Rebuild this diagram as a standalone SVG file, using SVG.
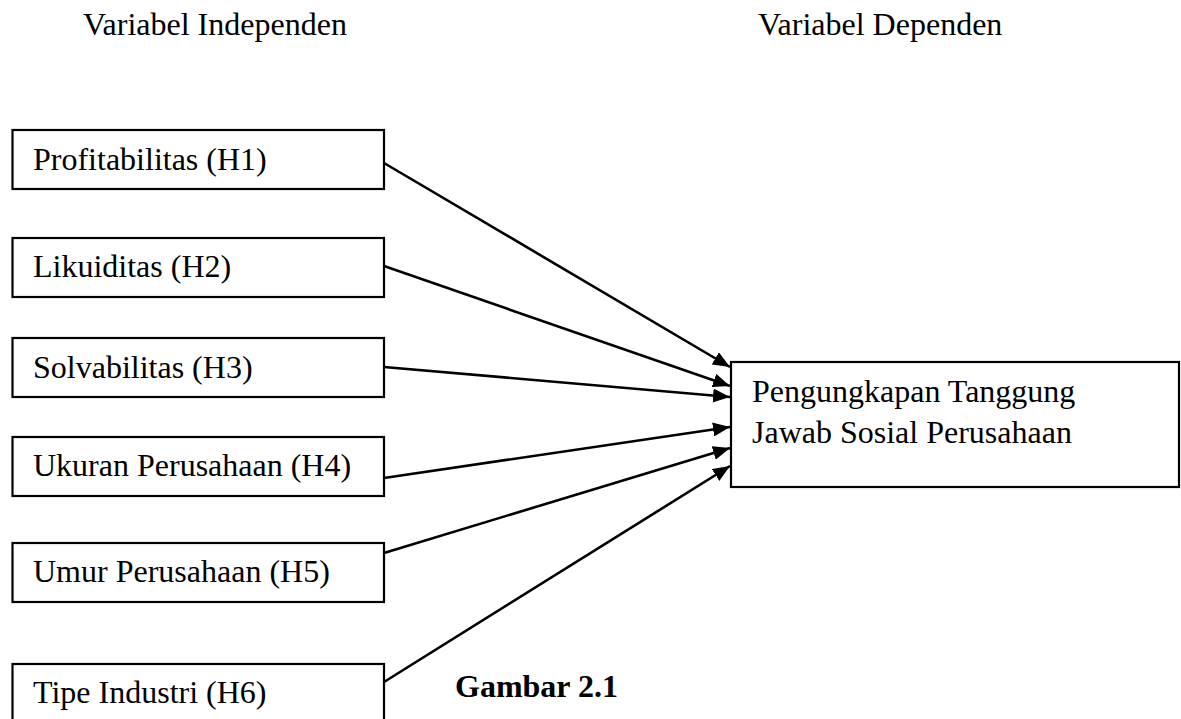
<svg xmlns="http://www.w3.org/2000/svg" width="1181" height="719" viewBox="0 0 1181 719">
<style>
text{font-family:"Liberation Serif","Times New Roman",serif;font-size:32px;fill:#000}
.b{font-weight:bold}
.box{fill:#fff;stroke:#000;stroke-width:2.2}
.c{stroke:#000;stroke-width:2.6;fill:none;marker-end:url(#ah)}
</style>
<defs>
<marker id="ah" markerUnits="userSpaceOnUse" markerWidth="18" markerHeight="14" refX="17" refY="7" orient="auto">
<path d="M0,0 L17,7 L0,14 Z" fill="#000"/>
</marker>
</defs>
<text x="83" y="35">Variabel Independen</text>
<text x="758" y="35">Variabel Dependen</text>
<g id="n1"><rect class="box" x="12.5" y="130" width="371.5" height="59"/><text x="33" y="170">Profitabilitas (H1)</text></g>
<g id="n2"><rect class="box" x="12.5" y="238" width="371.5" height="59"/><text x="33" y="277">Likuiditas (H2)</text></g>
<g id="n3"><rect class="box" x="12.5" y="338" width="371.5" height="59"/><text x="33" y="378">Solvabilitas (H3)</text></g>
<g id="n4"><rect class="box" x="12.5" y="437" width="371.5" height="59"/><text x="33" y="476">Ukuran Perusahaan (H4)</text></g>
<g id="n5"><rect class="box" x="12.5" y="543" width="371.5" height="59"/><text x="33" y="582">Umur Perusahaan (H5)</text></g>
<g id="n6"><rect class="box" x="12.5" y="664" width="371.5" height="70"/><text x="33" y="703">Tipe Industri (H6)</text></g>
<g id="target"><rect class="box" x="731" y="362" width="448" height="125"/><text x="752" y="402">Pengungkapan Tanggung</text><text x="752" y="443">Jawab Sosial Perusahaan</text></g>
<g id="connectors">
<line class="c" x1="384" y1="163" x2="730" y2="367"/>
<line class="c" x1="384" y1="266" x2="730" y2="386"/>
<line class="c" x1="384" y1="367" x2="730" y2="397"/>
<line class="c" x1="384" y1="478" x2="730" y2="427"/>
<line class="c" x1="384" y1="553" x2="730" y2="448"/>
<line class="c" x1="384" y1="682" x2="730" y2="466"/>
</g>
<text class="b" x="455" y="697">Gambar 2.1</text>
</svg>
